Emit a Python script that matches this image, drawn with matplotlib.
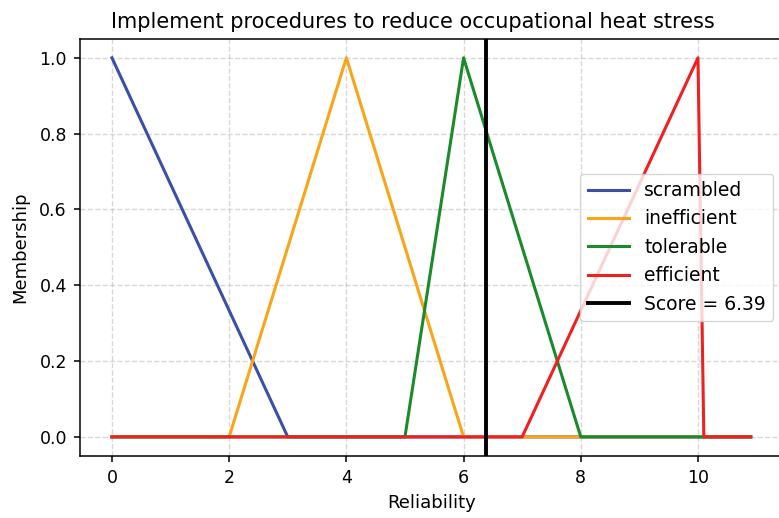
import matplotlib
matplotlib.use("Agg")
import matplotlib.pyplot as plt

# Breakpoints of each piecewise-linear membership function over the reliability scale
scrambled_x = [0, 3, 10.9]
scrambled_y = [1, 0, 0]
inefficient_x = [0, 2, 4, 6, 10.9]
inefficient_y = [0, 0, 1, 0, 0]
tolerable_x = [0, 5, 6, 8, 10.9]
tolerable_y = [0, 0, 1, 0, 0]
efficient_x = [0, 7, 10, 10.1, 10.9]
efficient_y = [0, 0, 1, 0, 0]
score = 6.39

fig = plt.figure(figsize=(7.79, 5.18), dpi=100)
ax = fig.add_axes([0.1027, 0.12, 0.902, 0.805])

ax.plot(scrambled_x, scrambled_y, color="#3a4fa8", lw=2.2, label="scrambled")
ax.plot(inefficient_x, inefficient_y, color="#f9a51a", lw=2.2, label="inefficient")
ax.plot(tolerable_x, tolerable_y, color="#1a8a2a", lw=2.2, label="tolerable")
ax.plot(efficient_x, efficient_y, color="#f02020", lw=2.2, label="efficient")
ax.axvline(score, color="black", lw=2.8, label=f"Score = {score:.2f}")

ax.set_title("Implement procedures to reduce occupational heat stress",
             fontsize=15, pad=8, x=0.474)
ax.set_xlabel("Reliability", fontsize=13, labelpad=5)
ax.set_ylabel("Membership", fontsize=13, labelpad=7)
ax.tick_params(labelsize=12.5, length=4.4, width=1.1, pad=5)
for sp in ax.spines.values():
    sp.set_linewidth(1.1)
ax.grid(True, linestyle="--", alpha=0.5, lw=1)
ax.legend(loc="center right", fontsize=13.5, handlelength=2.2)

fig.savefig("out.png", dpi=100)
